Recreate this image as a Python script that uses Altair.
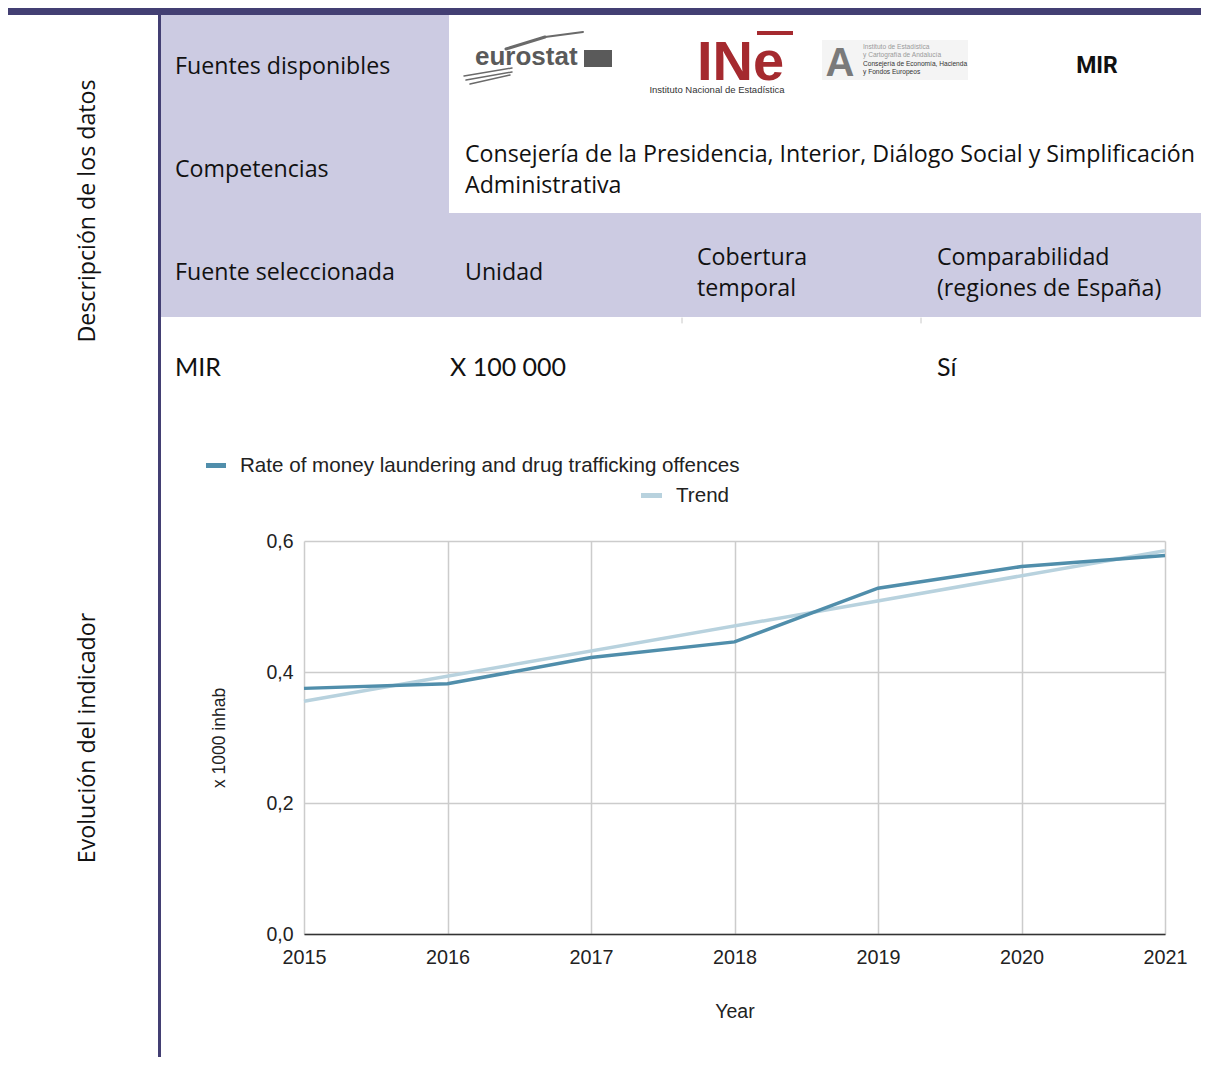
import altair as alt
import pandas as pd

# ---------------- data ----------------
years = [2015, 2016, 2017, 2018, 2019, 2020, 2021]
rate = [0.375, 0.382, 0.422, 0.446, 0.528, 0.561, 0.578]
series_main = "Rate of money laundering and drug trafficking offences"
series_trend = "Trend"
y_ticks = [0.0, 0.2, 0.4, 0.6]

df = pd.DataFrame({"year": years, "value": rate, "series": series_main})

# ---------------- layout constants (page pixels) ----------------
PLOT_X0, PLOT_Y0 = 304, 541
PLOT_W, PLOT_H = 861, 393
CANVAS_W, CANVAS_H = 1193, 1049
PAD = {"left": PLOT_X0 - 8, "top": PLOT_Y0 - 8,
       "right": CANVAS_W - (PLOT_X0 - 8) - PLOT_W,
       "bottom": CANVAS_H - (PLOT_Y0 - 8) - PLOT_H}
RIGHT = 8 + CANVAS_W
BOTTOM = 8 + CANVAS_H

DARK = "#433f73"
LAV = "#cccbe2"
C_MAIN = "#508eab"
C_TREND = "#b8d2de"
TFONT = "Open Sans"
TSIZE = 23.2
CFONT = "Liberation Sans"

one = alt.Data(values=[{"k": 1}])


def px(x):
    return x - PLOT_X0


def py(y):
    return y - PLOT_Y0


def rect(x0, y0, x1, y1, color):
    return alt.Chart(one).mark_rect(color=color).encode(
        x=alt.value(px(x0)), x2=alt.value(px(x1)),
        y=alt.value(py(y0)), y2=alt.value(py(y1)))


def seg(x0, y0, x1, y1, color, w):
    return alt.Chart(one).mark_rule(color=color, strokeWidth=w, strokeCap="round").encode(
        x=alt.value(px(x0)), x2=alt.value(px(x1)),
        y=alt.value(py(y0)), y2=alt.value(py(y1)))


def txt(s, x, y, size=TSIZE, color="#111111", align="left", baseline="middle",
        font=TFONT, weight="normal", angle=0, lh=31):
    return alt.Chart(one).mark_text(
        text=s, align=align, baseline=baseline, fontSize=size, font=font,
        fontWeight=weight, color=color, angle=angle, lineBreak="\n", lineHeight=lh
    ).encode(x=alt.value(px(x)), y=alt.value(py(y)))


deco = [
    # frame bars
    rect(8, 7, RIGHT, 15, DARK),
    rect(158, 15, 161, BOTTOM, DARK),
    # lavender cells
    rect(161, 15, 449, 213, LAV),
    rect(161, 213, RIGHT, 317, LAV),
    # faint separators
    seg(682, 318, 682, 323, "#c8c8c8", 1),
    seg(921, 318, 921, 323, "#c8c8c8", 1),
    # table text
    txt("Fuentes disponibles", 175, 67),
    txt("Competencias", 175, 170),
    txt("Consejería de la Presidencia, Interior, Diálogo Social y Simplificación\nAdministrativa",
        465, 155),
    txt("Fuente seleccionada", 175, 273),
    txt("Unidad", 465, 273),
    txt("Cobertura\ntemporal", 697, 258),
    txt("Comparabilidad\n(regiones de España)", 937, 258),
    txt("MIR", 175, 368, font="Lato", size=25),
    txt("X 100 000", 450, 368, font="Lato", size=25),
    txt("Sí", 937, 368, font="Lato", size=25),
    txt("Descripción de los datos", 88, 211, align="center", angle=270),
    txt("Evolución del indicador", 88, 738, align="center", angle=270),
    # eurostat logo
    seg(506, 49, 545, 37, "#6a6a6a", 3),
    seg(545, 37, 583, 32, "#6a6a6a", 2),
    seg(464, 76, 512, 68, "#6a6a6a", 1.5),
    seg(466, 80, 512, 72, "#6a6a6a", 1.5),
    seg(470, 84, 510, 75, "#6a6a6a", 1.5),
    txt("eurostat", 475, 65, size=26, color="#5a5a5a", baseline="alphabetic",
        font=CFONT, weight="bold"),
    rect(584, 50, 612, 67, "#5a5a5a"),
    # INE logo
    txt("INe", 697, 80, size=56, color="#a52a2f", baseline="alphabetic", font=CFONT,
        weight="bold"),
    rect(757, 31, 793, 35, "#a52a2f"),
    txt("Instituto Nacional de Estadística", 717, 90, size=9.5, color="#333333",
        align="center", font=CFONT),
    # IECA logo
    rect(822, 40, 968, 80, "#f4f4f4"),
    txt("A", 840, 76, size=40, color="#7a7a7a", align="center", baseline="alphabetic",
        font=CFONT, weight="bold"),
    txt("Instituto de Estadística", 863, 47, size=6.6, color="#9a9a9a", font=CFONT),
    txt("y Cartografía de Andalucía", 863, 55, size=6.6, color="#9a9a9a", font=CFONT),
    txt("Consejería de Economía, Hacienda", 863, 64, size=6.6, color="#333333", font=CFONT),
    txt("y Fondos Europeos", 863, 72, size=6.6, color="#333333", font=CFONT),
    # MIR
    txt("MIR", 1097, 66, size=23, color="#111111", align="center", font="Roboto", weight="bold"),
    # legend
    rect(206, 463, 226, 468, C_MAIN),
    txt(series_main, 240, 466, size=20.6, color="#222222", font=CFONT),
    rect(641, 493, 662, 498, C_TREND),
    txt(series_trend, 676, 496, size=20.6, color="#222222", font=CFONT),
]

x_enc = alt.X("year:Q", title="Year",
              scale=alt.Scale(domain=[2015, 2021], nice=False, zero=False),
              axis=alt.Axis(values=years, format="d", grid=True, gridColor="#cccccc",
                            gridWidth=1.5, domain=True, domainColor="#333333",
                            domainWidth=1.5, ticks=False, labelPadding=13,
                            labelFont=CFONT, labelFontSize=19.8, labelColor="#222222",
                            labelFlush=False, titleFont=CFONT, titleFontSize=19.5,
                            titleFontWeight="normal", titleColor="#222222",
                            titlePadding=36))
y_enc = alt.Y("value:Q", title="x 1000 inhab",
              scale=alt.Scale(domain=[0, 0.6], nice=False),
              axis=alt.Axis(values=y_ticks, grid=True, gridColor="#cccccc", gridWidth=1.5,
                            domain=False, ticks=False, labelPadding=11,
                            labelExpr="replace(format(datum.value, '.1f'), '.', ',')",
                            labelFont=CFONT, labelFontSize=19.5, labelColor="#222222",
                            titleFont=CFONT, titleFontSize=17.5, titleFontWeight="normal",
                            titleColor="#222222", titlePadding=37))

trend = alt.Chart(df).transform_regression(
    "year", "value", extent=[2015, 2021]
).mark_line(color=C_TREND, strokeWidth=3.5).encode(x=x_enc, y=y_enc)

main = alt.Chart(df).mark_line(color=C_MAIN, strokeWidth=3.5).encode(x=x_enc, y=y_enc)

chart = alt.layer(trend, main, *deco).properties(
    width=PLOT_W, height=PLOT_H,
    autosize=alt.AutoSizeParams(type="none"),
    padding=PAD,
    background="white",
).configure_view(stroke=None)

chart.save("out.html", embed_options={"renderer": "svg", "actions": False})
